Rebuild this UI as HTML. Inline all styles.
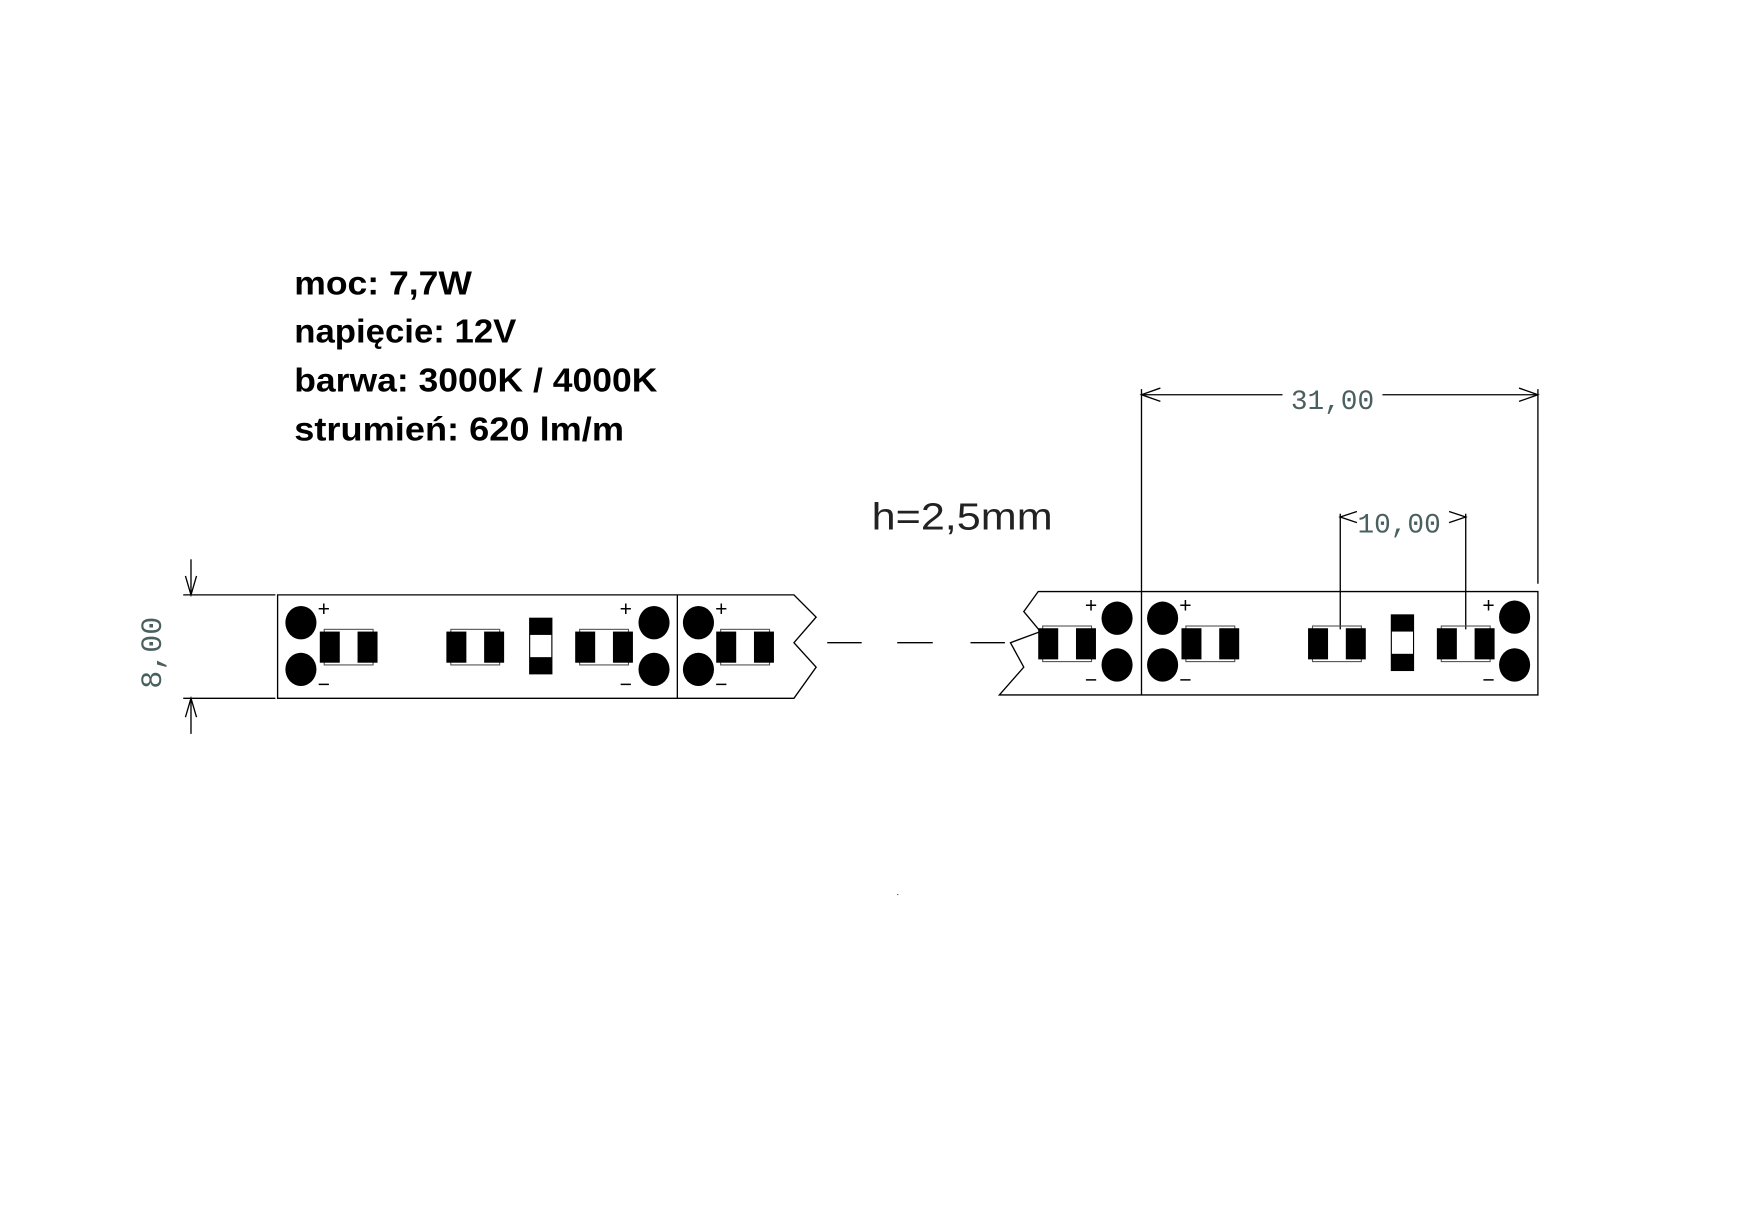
<!DOCTYPE html>
<html><head><meta charset="utf-8"><style>
html,body{margin:0;padding:0;background:#fff;width:1740px;height:1212px;overflow:hidden}
svg{display:block}
</style></head><body>
<svg width="1740" height="1212" viewBox="0 0 1567 1090" preserveAspectRatio="none" xmlns="http://www.w3.org/2000/svg">
<defs>
<g id="led">
<rect x="4" y="0" width="44" height="32" fill="none" stroke="#555" stroke-width="1"/>
<rect x="0" y="2" width="18" height="28" fill="#000"/>
<rect x="34" y="2" width="18" height="28" fill="#000"/>
</g>
<g id="res">
<rect x="0" y="0" width="20" height="50" fill="#fff" stroke="#000" stroke-width="1"/>
<rect x="0" y="0" width="20" height="15" fill="#000"/>
<rect x="0" y="35" width="20" height="15" fill="#000"/>
</g>
</defs>
<g font-family="'Liberation Sans',sans-serif" font-weight="bold" font-size="30" fill="#000" lengthAdjust="spacingAndGlyphs">
<text x="265" y="265" textLength="160" lengthAdjust="spacingAndGlyphs">moc: 7,7W</text>
<text x="265" y="308" textLength="200" lengthAdjust="spacingAndGlyphs">napięcie: 12V</text>
<text x="265" y="352" textLength="327" lengthAdjust="spacingAndGlyphs">barwa: 3000K / 4000K</text>
<text x="265" y="396" textLength="297" lengthAdjust="spacingAndGlyphs">strumień: 620 lm/m</text>
</g>
<text x="785" y="476" font-family="'Liberation Sans',sans-serif" font-size="34" fill="#222" textLength="163" lengthAdjust="spacingAndGlyphs">h=2,5mm</text>

<g stroke="#000" stroke-width="1.2" fill="none">
<path d="M250 535 H715 L735 555 L715 578 L735 600 L715 628 H250 Z"/>
<line x1="610" y1="535" x2="610" y2="628"/>
<line x1="165" y1="535" x2="248" y2="535"/>
<line x1="165" y1="628" x2="248" y2="628"/>
<line x1="172" y1="503" x2="172" y2="535"/>
<line x1="172" y1="628" x2="172" y2="660"/>
<path d="M167 518 L172 535 L177 518"/>
<path d="M167 645 L172 628 L177 645"/>
<line x1="745" y1="578" x2="776" y2="578"/>
<line x1="808" y1="578" x2="840" y2="578"/>
<line x1="874" y1="578" x2="905" y2="578"/>
<path d="M1385 532 H935 L922 550 L937 568 L910 578 L922 600 L900 625 H1385 Z"/>
<line x1="1028" y1="350" x2="1028" y2="625"/>
<line x1="1385" y1="350" x2="1385" y2="525"/>
<line x1="1028" y1="355" x2="1155" y2="355"/>
<line x1="1245" y1="355" x2="1385" y2="355"/>
<path d="M1045 349 L1028 355 L1045 361"/>
<path d="M1368 349 L1385 355 L1368 361"/>
<line x1="1207" y1="462" x2="1207" y2="566"/>
<line x1="1320" y1="462" x2="1320" y2="566"/>
<path d="M1222 460 L1207 465 L1222 470"/>
<path d="M1305 460 L1320 465 L1305 470"/>
</g>
<text x="138" y="587" transform="rotate(-90 138 587)" text-anchor="middle" dominant-baseline="middle" font-family="'Liberation Mono',monospace" font-size="27" fill="#4a6060">8,00</text>
<text x="1200" y="368" text-anchor="middle" font-family="'Liberation Mono',monospace" font-size="25" fill="#4a6060">31,00</text>
<text x="1260" y="479" text-anchor="middle" font-family="'Liberation Mono',monospace" font-size="25" fill="#4a6060">10,00</text>

<g fill="#000">
<ellipse cx="271" cy="560" rx="14" ry="15"/><ellipse cx="271" cy="602" rx="14" ry="15"/>
<ellipse cx="589" cy="560" rx="14" ry="15"/><ellipse cx="589" cy="602" rx="14" ry="15"/>
<ellipse cx="629" cy="560" rx="14" ry="15"/><ellipse cx="629" cy="602" rx="14" ry="15"/>
<ellipse cx="1006" cy="556" rx="14" ry="15"/><ellipse cx="1006" cy="598" rx="14" ry="15"/>
<ellipse cx="1047" cy="556" rx="14" ry="15"/><ellipse cx="1047" cy="598" rx="14" ry="15"/>
<ellipse cx="1364" cy="555" rx="14" ry="15"/><ellipse cx="1364" cy="598" rx="14" ry="15"/>
</g>
<use href="#led" x="288" y="566"/>
<use href="#led" x="402" y="566"/>
<use href="#res" x="477" y="556"/>
<use href="#led" x="518" y="566"/>
<use href="#led" x="645" y="566"/>
<use href="#led" x="935" y="563"/>
<use href="#led" x="1064" y="563"/>
<use href="#led" x="1178" y="563"/>
<use href="#res" x="1253" y="553"/>
<use href="#led" x="1294" y="563"/>
<g font-family="'Liberation Sans',sans-serif" font-size="19" fill="#000">
<text x="286" y="554">+</text><text x="286" y="622">−</text>
<text x="558" y="554">+</text><text x="558" y="622">−</text>
<text x="644" y="554">+</text><text x="644" y="622">−</text>
<text x="977" y="551">+</text><text x="977" y="618">−</text>
<text x="1062" y="551">+</text><text x="1062" y="618">−</text>
<text x="1335" y="551">+</text><text x="1335" y="618">−</text>
</g>
<rect x="808" y="804" width="1" height="1" fill="#444"/>
</svg>
</body></html>
